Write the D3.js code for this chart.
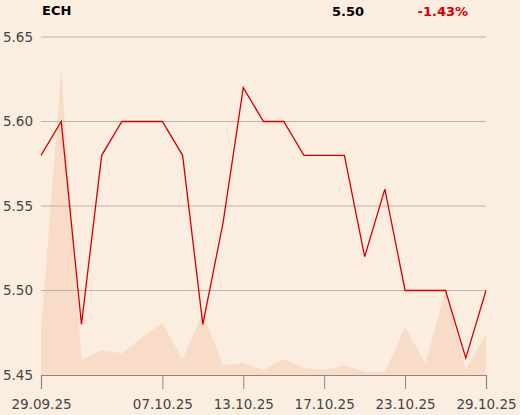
<!DOCTYPE html>
<html>
<head>
<meta charset="utf-8">
<script src="https://cdn.jsdelivr.net/npm/d3@7"></script>
<style>
  body { margin: 0; background: #fcede1; }
  text { font-family: "DejaVu Sans", sans-serif; }
</style>
</head>
<body>
<main></main>
<script>
// Data
const dates = ['29.09.25', '30.09.25', '01.10.25', '02.10.25', '03.10.25', '06.10.25', '07.10.25',
    '08.10.25', '09.10.25', '10.10.25', '13.10.25', '14.10.25', '15.10.25', '16.10.25', '17.10.25',
    '20.10.25', '21.10.25', '22.10.25', '23.10.25', '24.10.25', '27.10.25', '28.10.25', '29.10.25']
const prices = [5.58, 5.60, 5.48, 5.58, 5.60, 5.60, 5.60, 5.58, 5.48, 5.54, 5.62, 5.60, 5.60,
    5.58, 5.58, 5.58, 5.52, 5.56, 5.50, 5.50, 5.50, 5.46, 5.50]
const volumes = [45, 307, 15, 25, 22, 38, 52, 16, 62, 10, 12, 5, 16, 7, 5, 10, 3, 3, 48, 12, 85, 6, 41]
const yTicks = [5.45, 5.50, 5.55, 5.60, 5.65]
const xTicks = ['29.09.25', '07.10.25', '13.10.25', '17.10.25', '23.10.25', '29.10.25']
const symbol = 'ECH'
const lastPrice = '5.50'
const change = '-1.43%'

function GeneratePlot() {
    const total_width = 520
    const total_height = 415
    const margin = { top: 37, right: 34, bottom: 40, left: 41 }
    const width = total_width - margin.left - margin.right
    const height = total_height - margin.top - margin.bottom
    const fontSize = 13.5

    const svg = d3.select('main')
        .append('svg')
        .attr('width', total_width)
        .attr('height', total_height)

    const x = d3.scalePoint()
        .domain(dates)
        .range([0, width])
    const y = d3.scaleLinear()
        .domain([5.45, 5.65])
        .range([height, 0])
    const yVol = d3.scaleLinear()
        .domain([0, 340])
        .range([height, 0])

    const plot = svg.append('g')
        .attr('transform', `translate(${margin.left},${margin.top})`)

    // Volume area
    const area = d3.area()
        .x((d, i) => x(dates[i]))
        .y0(height)
        .y1(d => yVol(d))
    plot.append('path')
        .datum(volumes)
        .attr('d', area)
        .attr('fill', '#f8dcc7')

    // Grid
    plot.append('g')
        .selectAll('line')
        .data(yTicks.slice(1))
        .enter()
        .append('line')
        .attr('x1', 0)
        .attr('x2', width)
        .attr('y1', d => y(d))
        .attr('y2', d => y(d))
        .attr('stroke', '#b8b4b0')
        .attr('stroke-width', 1)

    // Y labels
    plot.append('g')
        .selectAll('text')
        .data(yTicks)
        .enter()
        .append('text')
        .attr('x', -8)
        .attr('y', d => y(d))
        .attr('dy', '0.35em')
        .attr('text-anchor', 'end')
        .attr('font-size', fontSize)
        .attr('fill', '#444')
        .text(d => d.toFixed(2))

    // X axis
    const xAxis = plot.append('g')
        .attr('transform', `translate(0,${height})`)
        .call(d3.axisBottom(x).tickValues(xTicks).tickSize(14).tickPadding(10))
    xAxis.select('.domain').attr('stroke', '#8a8784').attr('stroke-width', 1.2)
    xAxis.selectAll('.tick line').attr('stroke', '#8a8784')
    xAxis.selectAll('.tick text')
        .attr('font-family', '"DejaVu Sans", sans-serif')
        .attr('font-size', fontSize)
        .attr('fill', '#444')

    // Price line
    const line = d3.line()
        .x((d, i) => x(dates[i]))
        .y(d => y(d))
    plot.append('path')
        .datum(prices)
        .attr('d', line)
        .attr('fill', 'none')
        .attr('stroke', '#d20000')
        .attr('stroke-width', 1.3)

    // Header
    svg.append('text')
        .attr('x', 42).attr('y', 15)
        .attr('font-size', 13).attr('font-weight', 'bold')
        .attr('fill', '#000')
        .text(symbol)
    svg.append('text')
        .attr('x', 364).attr('y', 16)
        .attr('text-anchor', 'end')
        .attr('font-size', 13).attr('font-weight', 'bold')
        .attr('fill', '#000')
        .text(lastPrice)
    svg.append('text')
        .attr('x', 468).attr('y', 16)
        .attr('text-anchor', 'end')
        .attr('font-size', 13).attr('font-weight', 'bold')
        .attr('fill', '#d20000')
        .text(change)
}

GeneratePlot()
</script>
</body>
</html>
